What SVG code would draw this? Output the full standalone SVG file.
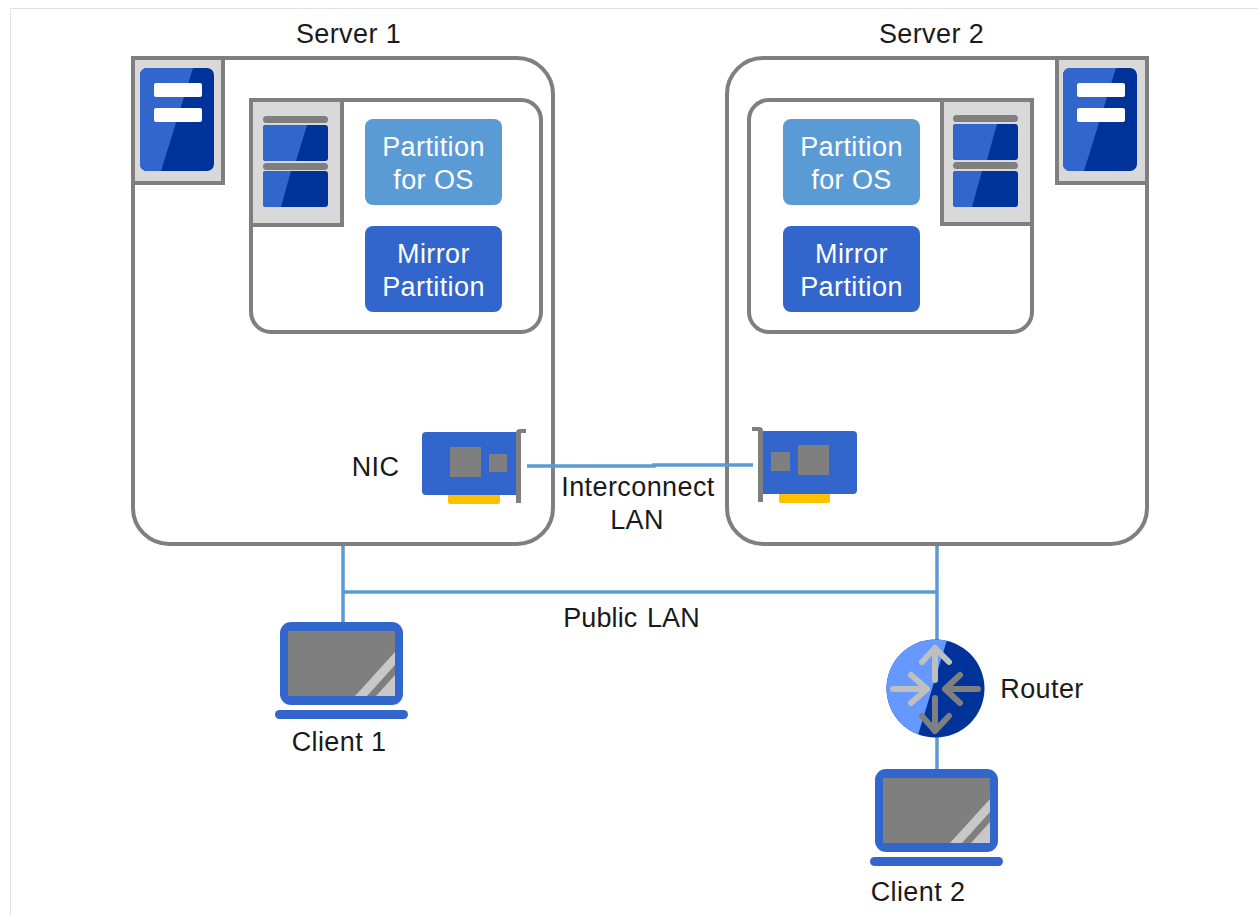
<svg xmlns="http://www.w3.org/2000/svg" width="1258" height="916" viewBox="0 0 1258 916">
<style>
text{font-family:"Liberation Sans",Arial,sans-serif;font-size:27px;letter-spacing:.4px;fill:#1a1a1a;text-anchor:middle}
.w{fill:#fff}
.t{fill:#fff}
.box{fill:#fff;stroke:#7f7f7f;stroke-width:4}
.tile{fill:#d9d9d9;stroke:#7f7f7f;stroke-width:4}
.blue{fill:#3366cc}.dark{fill:#003399}.gray{fill:#7f7f7f}.gold{fill:#ffc000}
.os{fill:#5b9bd5}
.wire{fill:none;stroke:#5b9bd5;stroke-width:3.500}
.a1{fill:none;stroke:#bfbfbf;stroke-width:6;stroke-linecap:round;stroke-linejoin:round}
.a2{fill:none;stroke:#7f7f7f;stroke-width:6;stroke-linecap:round;stroke-linejoin:round}
.shine{fill:#c8c8c8}
</style>
<defs>
<clipPath id="srvclip"><rect x="0" y="0" width="74" height="103" rx="7"/></clipPath>
<clipPath id="rclip"><circle cx="935.500" cy="688.500" r="49"/></clipPath>
<g id="server"><rect class="dark" width="74" height="103" rx="7"/><polygon class="blue" points="0,0 53,0 21,103 0,103" clip-path="url(#srvclip)"/><rect class="w" x="14" y="15" width="48" height="14" rx="2"/><rect class="w" x="14" y="40" width="48" height="14" rx="2"/></g>
<g id="laptop"><rect class="blue" x="5" y="0" width="123" height="83" rx="11"/><rect class="gray" x="13" y="9" width="107" height="65"/><polygon class="shine" points="120,30 120,43 92,74 80,74"/><polygon class="shine" points="120,53 120,74 101,74"/><rect class="blue" x="0" y="88" width="133" height="9" rx="4.500"/></g>
</defs>
<rect width="1258" height="916" fill="#fff"/>
<path d="M10.500,916V8.500H1258" fill="none" stroke="#e3e3e3" stroke-width="1"/>
<g id="server1">
<rect class="box" x="133" y="58" width="420" height="486" rx="36"/>
<rect class="tile" x="133" y="58" width="90" height="125"/>
<use href="#server" x="140" y="68"/>
<rect class="box" x="251" y="100" width="290" height="232" rx="20"/>
<rect class="tile" x="251" y="100" width="91" height="125"/>
<rect class="gray" x="263" y="116" width="65" height="7" rx="3.500"/>
<rect class="dark" x="263" y="125" width="65" height="36" rx="3"/>
<path class="blue" d="M266,125H307L296,161H266Q263,161 263,158V128Q263,125 266,125Z"/>
<rect class="gray" x="263" y="163" width="65" height="7" rx="3.500"/>
<rect class="dark" x="263" y="171" width="65" height="36" rx="3"/>
<path class="blue" d="M266,171H291L281,207H266Q263,207 263,204V174Q263,171 266,171Z"/>
</g>
<g id="partition1-os"><rect class="os" x="365" y="119" width="137" height="86" rx="8"/><text class="t" x="433.500" y="156">Partition</text><text class="t" x="433.500" y="189">for OS</text></g>
<g id="partition1-mirror"><rect class="blue" x="365" y="226" width="137" height="86" rx="8"/><text class="t" x="433.500" y="263">Mirror</text><text class="t" x="433.500" y="296">Partition</text></g>
<g id="server2">
<rect class="box" x="727" y="58" width="420" height="486" rx="36"/>
<rect class="tile" x="1057" y="58" width="90" height="125"/>
<use href="#server" x="1063" y="68"/>
<rect class="box" x="749" y="100" width="283" height="232" rx="20"/>
<rect class="tile" x="942" y="100" width="90" height="124"/>
<rect class="gray" x="953" y="115" width="65" height="7" rx="3.500"/>
<rect class="dark" x="953" y="124" width="65" height="36" rx="3"/>
<path class="blue" d="M956,124H997L987,160H956Q953,160 953,157V127Q953,124 956,124Z"/>
<rect class="gray" x="953" y="162" width="65" height="7" rx="3.500"/>
<rect class="dark" x="953" y="171" width="65" height="36" rx="3"/>
<path class="blue" d="M956,171H982L972,207H956Q953,207 953,204V174Q953,171 956,171Z"/>
</g>
<g id="partition2-os"><rect class="os" x="783" y="119" width="137" height="86" rx="8"/><text class="t" x="851.500" y="156">Partition</text><text class="t" x="851.500" y="189">for OS</text></g>
<g id="partition2-mirror"><rect class="blue" x="783" y="226" width="137" height="86" rx="8"/><text class="t" x="851.500" y="263">Mirror</text><text class="t" x="851.500" y="296">Partition</text></g>
<g id="connectors">
<path class="wire" d="M343,546V622M343,592H937M937,546V642M937,736V770"/>
<path class="wire" d="M527,466H654V465H753"/>
</g>
<g id="nic1">
<rect class="gold" x="448" y="493" width="52" height="11" rx="2"/>
<path class="blue" d="M426,432H516V495H426Q422,495 422,491V436Q422,432 426,432Z"/>
<rect class="gray" x="450" y="447" width="31" height="30"/>
<rect class="gray" x="489" y="454" width="18" height="18"/>
<path class="gray" d="M516,503V433Q516,429 520,429H526V433H521V503Z"/>
</g>
<g id="nic2">
<rect class="gold" x="779" y="492" width="51" height="11" rx="2"/>
<path class="blue" d="M763,431H853Q857,431 857,435V490Q857,494 853,494H763Z"/>
<rect class="gray" x="771" y="452" width="19" height="19"/>
<rect class="gray" x="798" y="445" width="31" height="30"/>
<path class="gray" d="M763,502V431Q763,427 759,427H752V431H758V502Z"/>
</g>
<g id="router">
<circle class="dark" cx="935.500" cy="688.500" r="49"/>
<polygon fill="#6699ff" points="950,630 915,745 880,745 880,630" clip-path="url(#rclip)"/>
<path class="a1" d="M935,680V648M922,662L935,648L949,662"/>
<path class="a1" d="M893,689H927M911,675L927,689L911,703"/>
<path class="a2" d="M978,689H945M960,675L945,689L960,703"/>
<path class="a2" d="M935,698V731M922,716L935,731L949,716"/>
</g>
<g id="client1"><use href="#laptop" x="275" y="622"/></g>
<g id="client2"><use href="#laptop" x="870" y="769"/></g>
<g id="labels">
<text x="348.500" y="43">Server 1</text>
<text x="931.500" y="43">Server 2</text>
<text x="375.500" y="476">NIC</text>
<text x="638" y="496">Interconnect</text>
<text x="637" y="529">LAN</text>
<text x="631.500" y="627" style="word-spacing:2px;letter-spacing:.1px">Public LAN</text>
<text x="1042" y="698">Router</text>
<text x="339" y="751">Client 1</text>
<text x="918" y="901">Client 2</text>
</g>
</svg>
